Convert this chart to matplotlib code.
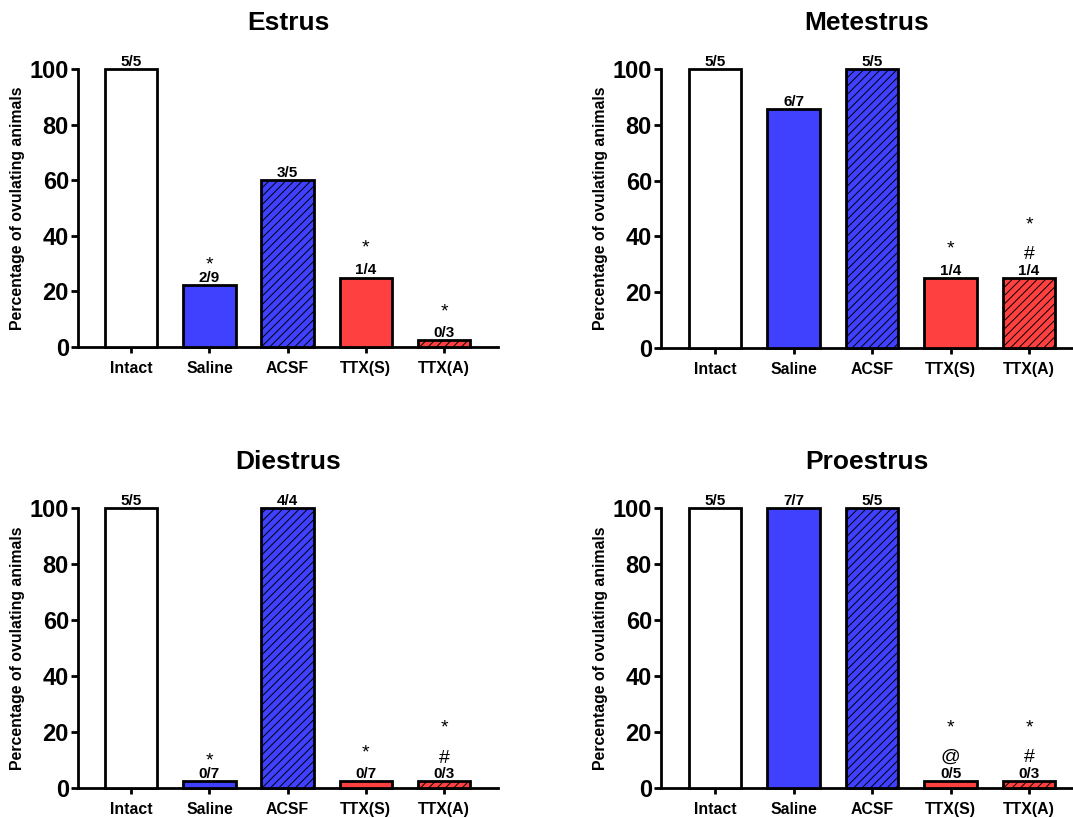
import numpy as np
import matplotlib.pyplot as plt

plt.rcParams['font.family'] = ['Liberation Sans', 'DejaVu Sans']
plt.rcParams['hatch.linewidth'] = 0.7

groups = ['Intact', 'Saline', 'ACSF', 'TTX(S)', 'TTX(A)']
stages = ['Estrus', 'Metestrus', 'Diestrus', 'Proestrus']

# percentage of ovulating animals (0 % groups are drawn as a small stub)
estrus = [100, 22.2, 60, 25, 2.5]
metestrus = [100, 85.7, 100, 25, 25]
diestrus = [100, 2.5, 100, 2.5, 2.5]
proestrus = [100, 100, 100, 2.5, 2.5]

estrus_n = ['5/5', '2/9', '3/5', '1/4', '0/3']
metestrus_n = ['5/5', '6/7', '5/5', '1/4', '1/4']
diestrus_n = ['5/5', '0/7', '4/4', '0/7', '0/3']
proestrus_n = ['5/5', '7/7', '5/5', '0/5', '0/3']

# significance marks per bar (bottom to top)
estrus_sig = [[], ['*'], [], ['*'], ['*']]
metestrus_sig = [[], [], [], ['*'], ['#', '*']]
diestrus_sig = [[], ['*'], [], ['*'], ['#', '*']]
proestrus_sig = [[], [], [], ['@', '*'], ['#', '*']]

# heights where the marks sit
estrus_sig_y = [[], [30], [], [36], [13]]
metestrus_sig_y = [[], [], [], [36], [33.5, 44.5]]
diestrus_sig_y = [[], [10], [], [13], [10.5, 22]]
proestrus_sig_y = [[], [], [], [11, 22], [11, 22]]

blue = '#4040ff'
red = '#ff4040'
colors = ['white', blue, blue, red, red]
hatches = [None, None, '////', None, '////']

panels = [
    (estrus, estrus_n, estrus_sig, estrus_sig_y),
    (metestrus, metestrus_n, metestrus_sig, metestrus_sig_y),
    (diestrus, diestrus_n, diestrus_sig, diestrus_sig_y),
    (proestrus, proestrus_n, proestrus_sig, proestrus_sig_y),
]

fig = plt.figure(figsize=(10.73, 8.18), dpi=100)
rects = [
    [0.0727, 0.5758, 0.3914, 0.3398],
    [0.616, 0.5746, 0.384, 0.341],
    [0.0727, 0.0367, 0.3914, 0.3423],
    [0.616, 0.0367, 0.384, 0.3423],
]
xlims = [(-0.68, 4.69), (-0.69, 4.56), (-0.68, 4.69), (-0.69, 4.56)]

for i, (vals, ns, sig, sig_y) in enumerate(panels):
    ax = fig.add_axes(rects[i])
    x = np.arange(len(groups))
    for j in range(len(groups)):
        ax.bar(x[j], vals[j], width=0.67, color=colors[j], edgecolor='black',
               linewidth=2, hatch=hatches[j], zorder=3, clip_on=False)
        ax.text(x[j], vals[j] + 2.6, ns[j], ha='center', va='center',
                fontsize=11, fontweight='bold', zorder=5)
        for s, y in zip(sig[j], sig_y[j]):
            if s == '*':
                ax.text(x[j], y - 0.5, s, ha='center', va='center', fontsize=14)
            else:
                ax.text(x[j], y, s, ha='center', va='center', fontsize=14)

    ax.set_xlim(*xlims[i])
    ax.set_ylim(0, 100)
    ax.set_yticks([0, 20, 40, 60, 80, 100])
    ax.set_xticks(x)
    ax.set_xticklabels(groups, fontsize=11.4, fontweight='bold')
    for lbl in ax.get_yticklabels():
        lbl.set_fontsize(17)
        lbl.set_fontweight('bold')
    ax.tick_params(axis='y', width=2, length=5, pad=1.5)
    ax.tick_params(axis='x', width=2, length=4.5, pad=5.5)
    ax.spines['top'].set_visible(False)
    ax.spines['right'].set_visible(False)
    ax.spines['left'].set_linewidth(2)
    ax.spines['bottom'].set_linewidth(2)
    ax.set_ylabel('Percentage of ovulating animals', fontsize=11.4,
                  fontweight='bold', labelpad=3)
    ax.set_title(stages[i], fontsize=19, fontweight='bold', pad=28)

fig.savefig('out.png', dpi=100)
